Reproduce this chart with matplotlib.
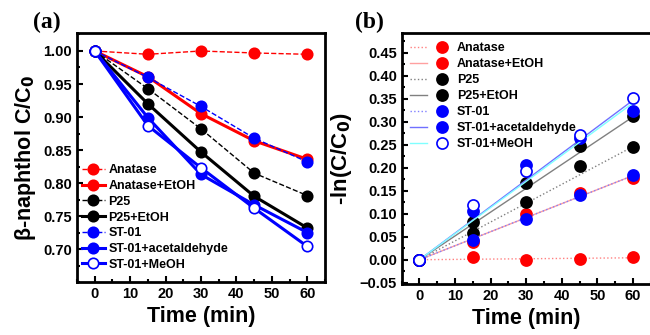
import matplotlib.pyplot as plt
from matplotlib.legend_handler import HandlerTuple
from matplotlib.ticker import MultipleLocator

plt.rcParams['font.family'] = ['Liberation Sans', 'DejaVu Sans']
plt.rcParams['font.weight'] = 'bold'

# data
time = [0, 15, 30, 45, 60]
names = ['Anatase', 'Anatase+EtOH', 'P25', 'P25+EtOH', 'ST-01',
         'ST-01+acetaldehyde', 'ST-01+MeOH']

# C/C0
anatase = [1.0, 0.995, 1.0, 0.997, 0.995]
anatase_etoh = [1.0, 0.961, 0.905, 0.864, 0.836]
p25 = [1.0, 0.943, 0.882, 0.815, 0.781]
p25_etoh = [1.0, 0.920, 0.847, 0.780, 0.732]
st01 = [1.0, 0.960, 0.916, 0.868, 0.832]
st01_acet = [1.0, 0.899, 0.813, 0.767, 0.725]
st01_meoh = [1.0, 0.887, 0.823, 0.762, 0.704]

# -ln(C/C0)
ln_anatase = [0.0, 0.005, 0.0, 0.002, 0.005]
ln_anatase_etoh = [0.0, 0.038, 0.100, 0.146, 0.178]
ln_p25 = [0.0, 0.059, 0.125, 0.204, 0.246]
ln_p25_etoh = [0.0, 0.082, 0.166, 0.248, 0.312]
ln_st01 = [0.0, 0.042, 0.088, 0.140, 0.184]
ln_st01_acet = [0.0, 0.106, 0.207, 0.265, 0.323]
ln_st01_meoh = [0.0, 0.120, 0.194, 0.271, 0.352]

# fitted rate constants (min^-1)
k_fit = [0.00007, 0.00305, 0.0041, 0.00518, 0.00305, 0.00578, 0.00568]
fit_x = [0, 60]

series_a = [anatase, anatase_etoh, p25, p25_etoh, st01, st01_acet, st01_meoh]
series_b = [ln_anatase, ln_anatase_etoh, ln_p25, ln_p25_etoh, ln_st01,
            ln_st01_acet, ln_st01_meoh]

colors = ['red', 'red', 'black', 'black', 'blue', 'blue', 'blue']
styles_a = ['--', '-', '--', '-', '--', '-', '-']
fills = [True, True, True, True, True, True, False]
fit_colors = ['#ff8080', '#ffa0a0', '#808080', '#808080', '#8080ff',
              '#7070ff', '#80ffff']
fit_styles = [':', '-', ':', '-', ':', '-', '-']

fig = plt.figure(figsize=(6.5, 3.35), dpi=100)
ax1 = fig.add_axes([0.1185, 0.158, 0.3815, 0.743])
ax2 = fig.add_axes([0.618, 0.152, 0.383, 0.749])


def style_axes(ax):
    for s in ax.spines.values():
        s.set_linewidth(2)
    ax.tick_params(direction='in', which='both', labelsize=10.5, width=1.5,
                   top=False, right=False)
    ax.tick_params(which='major', length=4)
    ax.tick_params(which='minor', length=2.5)
    ax.xaxis.set_major_locator(MultipleLocator(10))
    ax.xaxis.set_minor_locator(MultipleLocator(5))
    ax.set_xlim(-5, 65)
    ax.set_xlabel('Time (min)', fontsize=15.5, fontweight='bold')


# panel (a)
for y, name, c, ls, f in zip(series_a, names, colors, styles_a, fills):
    lw = 1 if ls == '--' else 2.2
    ax1.plot(time, y, ls=ls, color=c, lw=lw, marker='o', ms=7.5,
             mfc=c if f else 'white', mec=c, mew=1.2, label=name)
ax1.set_ylim(0.65, 1.027)
ax1.yaxis.set_minor_locator(MultipleLocator(0.025))
ax1.set_yticks([0.70, 0.75, 0.80, 0.85, 0.90, 0.95, 1.00])
ax1.set_ylabel('β-naphthol C/C$_\\mathbf{0}$', fontsize=15.5, fontweight='bold')
style_axes(ax1)
ax1.legend(loc='lower left', bbox_to_anchor=(-0.01, 0.015), frameon=False,
           fontsize=9, handlelength=1.8, handletextpad=0.3, labelspacing=0.3,
           borderaxespad=0.2)
fig.text(0.05, 0.915, '(a)', fontsize=17, fontweight='bold',
         family='Liberation Serif')

# panel (b)
handles = []
for y, k, name, c, f, fc, fs in zip(series_b, k_fit, names, colors, fills,
                                     fit_colors, fit_styles):
    fit_line, = ax2.plot(fit_x, [k * t for t in fit_x], ls=fs, color=fc, lw=1)
    pts, = ax2.plot(time, y, ls='none', marker='o', ms=8,
                    mfc=c if f else 'white', mec=c, mew=1.2)
    handles.append((fit_line, pts))
ax2.set_ylim(-0.053, 0.493)
ax2.yaxis.set_major_locator(MultipleLocator(0.05))
ax2.yaxis.set_minor_locator(MultipleLocator(0.025))
ax2.set_ylabel('-ln(C/C$_\\mathbf{0}$)', fontsize=16, fontweight='bold')
style_axes(ax2)
ax2.legend(handles, names, loc='upper left', frameon=False, fontsize=9,
           handler_map={tuple: HandlerTuple(ndivide=None, pad=0.6)},
           handlelength=3.2, handletextpad=0.5, labelspacing=0.32,
           borderaxespad=0.3)
fig.text(0.546, 0.915, '(b)', fontsize=17, fontweight='bold',
         family='Liberation Serif')

fig.savefig('out.png', dpi=100)
